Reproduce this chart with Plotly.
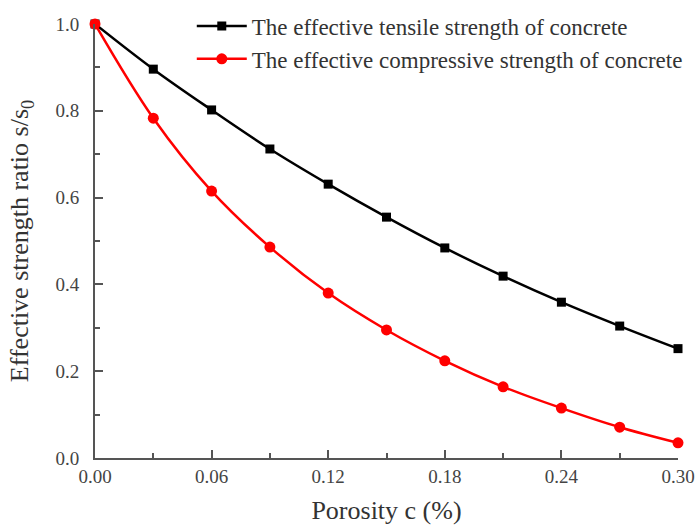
import plotly.graph_objects as go

porosity = [0.00, 0.03, 0.06, 0.09, 0.12, 0.15, 0.18, 0.21, 0.24, 0.27, 0.30]
tensile = [1.0, 0.896, 0.802, 0.712, 0.631, 0.555, 0.484, 0.419, 0.359, 0.304, 0.252]
compressive = [1.0, 0.783, 0.615, 0.486, 0.380, 0.295, 0.224, 0.164, 0.115, 0.071, 0.035]
x_ticks = [0.00, 0.06, 0.12, 0.18, 0.24, 0.30]
x_tick_labels = ["0.00", "0.06", "0.12", "0.18", "0.24", "0.30"]
y_ticks = [0.0, 0.2, 0.4, 0.6, 0.8, 1.0]
y_tick_labels = ["0.0", "0.2", "0.4", "0.6", "0.8", "1.0"]

font_family = "Liberation Serif, Times New Roman, serif"

fig = go.Figure()
fig.add_trace(go.Scatter(
    x=porosity, y=tensile, mode="lines+markers",
    name="The effective tensile strength of concrete",
    line=dict(color="black", width=2.5, shape="spline"),
    marker=dict(symbol="square", size=9, color="black"),
    cliponaxis=False,
))
fig.add_trace(go.Scatter(
    x=porosity, y=compressive, mode="lines+markers",
    name="The effective compressive strength of concrete",
    line=dict(color="red", width=2.5, shape="spline"),
    marker=dict(symbol="circle", size=11, color="red"),
    cliponaxis=False,
))

axis_common = dict(
    showgrid=False, zeroline=False, showline=True, linecolor="#555555", linewidth=2,
    ticks="inside", ticklen=8, tickwidth=2, tickcolor="#555555",
    tickfont=dict(family=font_family, size=19, color="#444444"),
    automargin=False,
)

fig.update_xaxes(
    range=[0, 0.30], tickvals=x_ticks, ticktext=x_tick_labels,
    minor=dict(ticks="inside", ticklen=5, tickwidth=2, tickcolor="#555555", dtick=0.03),
    ticklabelstandoff=0,
    title=dict(text="Porosity c (%)", font=dict(family=font_family, size=26, color="#333333"), standoff=17),
    **axis_common,
)
fig.update_yaxes(
    range=[0, 1.0], tickvals=y_ticks, ticktext=y_tick_labels,
    minor=dict(ticks="inside", ticklen=5, tickwidth=2, tickcolor="#555555", dtick=0.1),
    ticklabelstandoff=10,
    title=dict(text="Effective strength ratio s/s<sub>0</sub>", font=dict(family=font_family, size=26, color="#333333"), standoff=19),
    **axis_common,
)

fig.update_layout(
    width=697, height=525,
    margin=dict(l=95, r=19, t=24, b=67, autoexpand=False),
    paper_bgcolor="white", plot_bgcolor="white",
    showlegend=True,
    legend=dict(
        x=0.166, y=1.045, xanchor="left", yanchor="top",
        font=dict(family=font_family, size=23, color="#333333"),
        bgcolor="rgba(0,0,0,0)", tracegroupgap=0, itemwidth=50,
    ),
)

fig.write_html("out.html", config={"displayModeBar": False},
               post_script="document.body.style.margin='0';")
